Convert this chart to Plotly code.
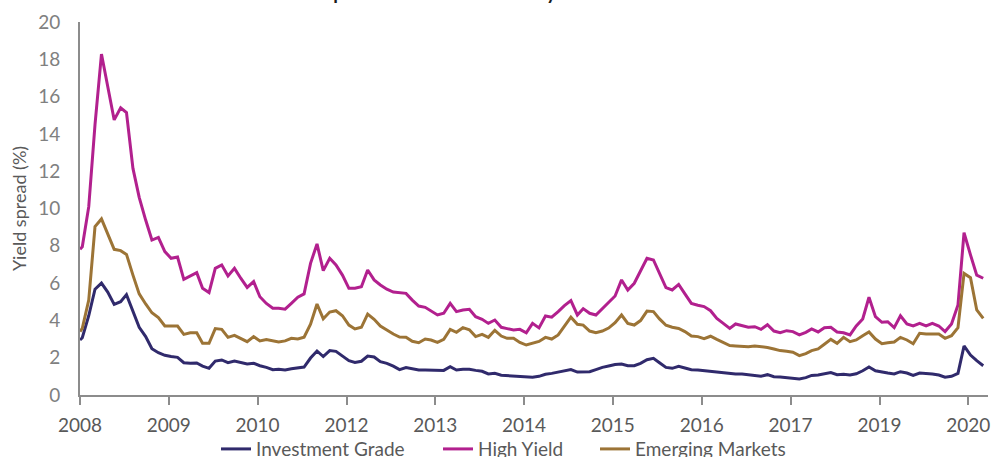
import pandas as pd
import plotly.graph_objects as go

# Monthly spread observations (%), first entry is the opening print on 1 Aug 2008
investment_grade = [
    2.95, 3.07, 4.25, 5.67, 6.0, 5.52, 4.86, 5.0, 5.38, 4.47, 3.63, 3.13, 2.48, 2.27, 2.13, 2.06,
    2.02, 1.73, 1.7, 1.72, 1.55, 1.43, 1.82, 1.88, 1.73, 1.82, 1.73, 1.66, 1.7, 1.57, 1.48,
    1.36, 1.38, 1.34, 1.41, 1.47, 1.5, 1.98, 2.36, 2.06, 2.38, 2.34, 2.09, 1.84, 1.75, 1.81,
    2.09, 2.04, 1.79, 1.7, 1.55, 1.36, 1.47, 1.41, 1.34, 1.34, 1.34, 1.34, 1.32, 1.52, 1.34,
    1.38, 1.38, 1.32, 1.27, 1.13, 1.16, 1.06, 1.04, 1.02, 1.0, 0.95, 0.95, 1.0, 1.11, 1.16,
    1.22, 1.3, 1.36, 1.23, 1.25, 1.25, 1.36, 1.48, 1.55, 1.63, 1.66, 1.57, 1.57, 1.7, 1.89,
    1.97, 1.73, 1.48, 1.43, 1.54, 1.45, 1.36, 1.34, 1.3, 1.27, 1.22, 1.18, 1.14, 1.13, 1.13,
    1.09, 1.07, 1.01, 1.09, 0.98, 0.96, 0.93, 0.89, 0.86, 0.93, 1.05, 1.07, 1.14, 1.2, 1.09,
    1.11, 1.07, 1.14, 1.3, 1.5, 1.3, 1.22, 1.18, 1.13, 1.25, 1.18, 1.05, 1.18, 1.16, 1.13,
    1.07, 0.95, 1.0, 1.16, 2.63, 2.14, 1.84, 1.57,
]
high_yield = [
    7.81, 7.95, 10.1, 14.5, 18.28, 16.6, 14.75, 15.4, 15.14, 12.15, 10.6, 9.38, 8.31, 8.45,
    7.69, 7.33, 7.4, 6.2, 6.38, 6.56, 5.72, 5.49, 6.79, 6.97, 6.38, 6.79, 6.25, 5.77, 6.08,
    5.27, 4.91, 4.65, 4.65, 4.6, 4.91, 5.24, 5.42, 7.06, 8.1, 6.67, 7.33, 6.97, 6.43, 5.72,
    5.72, 5.8, 6.7, 6.17, 5.9, 5.67, 5.52, 5.49, 5.45, 5.09, 4.77, 4.7, 4.5, 4.29, 4.38, 4.91,
    4.47, 4.56, 4.6, 4.2, 4.06, 3.84, 4.02, 3.63, 3.56, 3.49, 3.52, 3.34, 3.84, 3.6, 4.24,
    4.17, 4.47, 4.79, 5.06, 4.29, 4.63, 4.38, 4.29, 4.65, 5.0, 5.31, 6.17, 5.63, 5.99, 6.61,
    7.33, 7.24, 6.52, 5.76, 5.63, 5.93, 5.42, 4.91, 4.81, 4.74, 4.52, 4.11, 3.84, 3.57, 3.81,
    3.72, 3.63, 3.66, 3.52, 3.77, 3.43, 3.34, 3.45, 3.4, 3.22, 3.36, 3.54, 3.38, 3.61, 3.63,
    3.38, 3.34, 3.22, 3.7, 4.08, 5.24, 4.2, 3.9, 3.93, 3.61, 4.25, 3.81, 3.7, 3.84, 3.7, 3.84,
    3.7, 3.4, 3.81, 4.83, 8.7, 7.51, 6.43, 6.26,
]
emerging_markets = [
    3.4, 3.57, 5.09, 9.03, 9.44, 8.67, 7.81, 7.74, 7.54, 6.43, 5.42, 4.88, 4.41, 4.15, 3.7,
    3.7, 3.7, 3.25, 3.34, 3.34, 2.77, 2.77, 3.56, 3.52, 3.09, 3.2, 3.04, 2.86, 3.13, 2.9, 2.98,
    2.91, 2.84, 2.9, 3.04, 3.0, 3.1, 3.8, 4.88, 4.09, 4.45, 4.52, 4.25, 3.75, 3.54, 3.63,
    4.34, 4.06, 3.7, 3.49, 3.27, 3.11, 3.1, 2.88, 2.8, 3.0, 2.95, 2.82, 2.98, 3.52, 3.36,
    3.61, 3.5, 3.13, 3.25, 3.09, 3.47, 3.16, 3.04, 3.04, 2.82, 2.68, 2.77, 2.87, 3.09, 3.0,
    3.22, 3.72, 4.17, 3.79, 3.75, 3.43, 3.34, 3.43, 3.59, 3.88, 4.29, 3.84, 3.75, 3.99, 4.5,
    4.47, 4.08, 3.74, 3.63, 3.57, 3.4, 3.16, 3.13, 3.02, 3.15, 2.98, 2.8, 2.65, 2.63, 2.59,
    2.59, 2.63, 2.61, 2.55, 2.47, 2.38, 2.34, 2.29, 2.11, 2.22, 2.38, 2.47, 2.72, 2.98, 2.77,
    3.09, 2.86, 2.95, 3.18, 3.38, 3.0, 2.75, 2.8, 2.84, 3.09, 2.95, 2.75, 3.31, 3.27, 3.27,
    3.27, 3.04, 3.18, 3.61, 6.52, 6.29, 4.56, 4.11,
]

# Observation dates: opening print, then mid-month readings
dates = [pd.Timestamp("2008-08-01")] + list(
    pd.date_range("2008-08-12", periods=len(high_yield) - 1, freq=pd.DateOffset(months=1))
)

# Axis ticks every 14 months, labelled by year
tick_dates = list(pd.date_range("2008-08-01", periods=11, freq=pd.DateOffset(months=14)))
tick_labels = ["2008", "2009", "2010", "2012", "2013", "2014", "2015", "2016", "2017", "2019", "2020"]

# (name, values, colour, legend id, legend left edge in paper units)
series = [
    ("Investment Grade", investment_grade, "#302a6c", "legend", 0.1498),
    ("High Yield", high_yield, "#b2208e", "legend2", 0.3943),
    ("Emerging Markets", emerging_markets, "#9c7436", "legend3", 0.5672),
]

FONT = "Lato"
AXIS_GREY = "#8c8c8c"

fig = go.Figure()
legend_layouts = {}
for name, values, color, legend_id, legend_x in series:
    fig.add_trace(
        go.Scatter(
            x=dates,
            y=values,
            name=name,
            mode="lines",
            line=dict(color=color, width=3),
            legend=legend_id,
        )
    )
    legend_layouts[legend_id] = dict(
        orientation="h",
        xref="paper",
        yref="paper",
        x=legend_x,
        xanchor="left",
        y=-0.094,
        yanchor="top",
        font=dict(family=FONT, size=19, color="#595959"),
        itemwidth=30,
        bgcolor="rgba(0,0,0,0)",
    )

fig.update_layout(
    width=997,
    height=457,
    margin=dict(l=80, r=9, t=22, b=62, autoexpand=False),
    paper_bgcolor="white",
    plot_bgcolor="white",
    font=dict(family=FONT, color="#595959"),
    showlegend=True,
    annotations=[
        dict(
            text="<b>Credit spreads relative to Treasury</b>",
            xref="paper",
            yref="paper",
            x=0.2053,
            y=1.043,
            xanchor="left",
            yanchor="bottom",
            showarrow=False,
            font=dict(family=FONT, size=19, color="#1a1a1a"),
        )
    ],
    **legend_layouts,
)

fig.update_xaxes(
    type="date",
    range=[pd.Timestamp("2008-08-01"), pd.Timestamp("2020-07-05")],
    tickmode="array",
    tickvals=tick_dates,
    ticktext=tick_labels,
    showgrid=False,
    zeroline=False,
    showline=True,
    linecolor=AXIS_GREY,
    linewidth=2,
    ticks="outside",
    ticklen=8,
    tickwidth=2,
    tickcolor=AXIS_GREY,
    ticklabelstandoff=4,
    tickfont=dict(family=FONT, size=19, color="#595959"),
)

fig.update_yaxes(
    range=[0, 20],
    tickmode="linear",
    tick0=0,
    dtick=2,
    showgrid=False,
    zeroline=False,
    showline=True,
    linecolor=AXIS_GREY,
    linewidth=2,
    ticks="",
    ticklabelstandoff=14,
    tickfont=dict(family=FONT, size=19, color="#808080"),
    title=dict(text="Yield spread (%)", font=dict(family=FONT, size=18, color="#595959"), standoff=7),
)

fig.write_html("out.html")
